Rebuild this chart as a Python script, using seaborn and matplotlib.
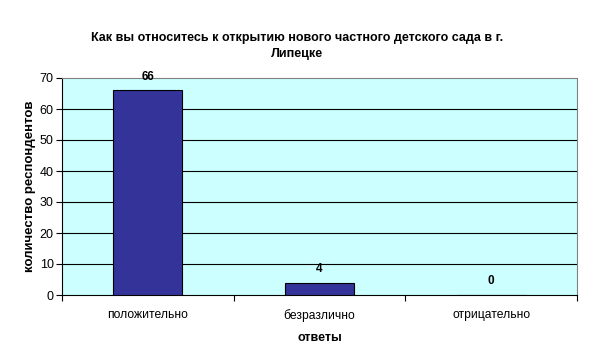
import matplotlib
matplotlib.use("Agg")
import matplotlib.pyplot as plt
import seaborn as sns
import pandas as pd

categories = ["положительно", "безразлично", "отрицательно"]
values = [66, 4, 0]
yticks = [0, 10, 20, 30, 40, 50, 60, 70]

sns.set_theme(style="white")
plt.rcParams['font.family'] = ['Liberation Sans', 'DejaVu Sans']
plt.rcParams['text.color'] = 'black'
plt.rcParams['axes.labelcolor'] = 'black'
plt.rcParams['xtick.color'] = 'black'
plt.rcParams['ytick.color'] = 'black'

df = pd.DataFrame({"cat": categories, "val": values})

fig = plt.figure(figsize=(5.94, 3.63), dpi=100)
ax = fig.add_axes([62/594, 1-295/363, (577-62)/594, (295-78)/363])
ax.set_facecolor("#CCFFFF")

sns.barplot(data=df, x="cat", y="val", color="#333399", width=0.4,
            edgecolor="black", linewidth=0.8, saturation=1, ax=ax, zorder=3)

ax.set_ylim(0, 70)
ax.set_yticks(yticks)
for t in yticks[1:-1]:
    ax.axhline(t, color="black", linewidth=0.8, zorder=1)

for i, v in enumerate(values):
    ax.annotate(str(v), (i, v), xytext=(0, 5.5), textcoords="offset points",
                ha="center", va="bottom", fontsize=8.5, fontweight="bold",
                color="black", zorder=4)

ax.set_xlim(-0.5, 2.5)
ax.set_xticks([-0.5, 0.5, 1.5, 2.5], minor=False)
ax.set_xticklabels([])
ax.set_xticks([0, 1, 2], minor=True)
ax.set_xticklabels(categories, minor=True, fontsize=8.7)
ax.tick_params(axis="x", which="major", length=4, width=0.8, color="black", direction="out", bottom=True)
ax.tick_params(axis="x", which="minor", length=0, pad=10)
ax.tick_params(axis="y", length=4, width=0.8, color="black", direction="out", left=True, labelsize=9, pad=2)

for s in ["left", "bottom"]:
    ax.spines[s].set_color("black")
    ax.spines[s].set_linewidth(0.8)
ax.spines["right"].set_color("#808080")
ax.spines["right"].set_linewidth(0.8)
ax.spines["top"].set_color("#808080")
ax.spines["top"].set_linestyle((0, (1, 1)))
ax.spines["top"].set_linewidth(0.8)

ax.set_xlabel("ответы", fontsize=9, fontweight="bold", labelpad=7)
ax.set_ylabel("количество респондентов", fontsize=9.5, fontweight="bold", labelpad=2.5)

fig.text(297/594, 1-46/363, "Как вы относитесь к открытию нового частного детского сада в г.\nЛипецке",
         ha="center", va="center", fontsize=9, fontweight="bold", linespacing=1.5)

fig.savefig("out.png", dpi=100)
